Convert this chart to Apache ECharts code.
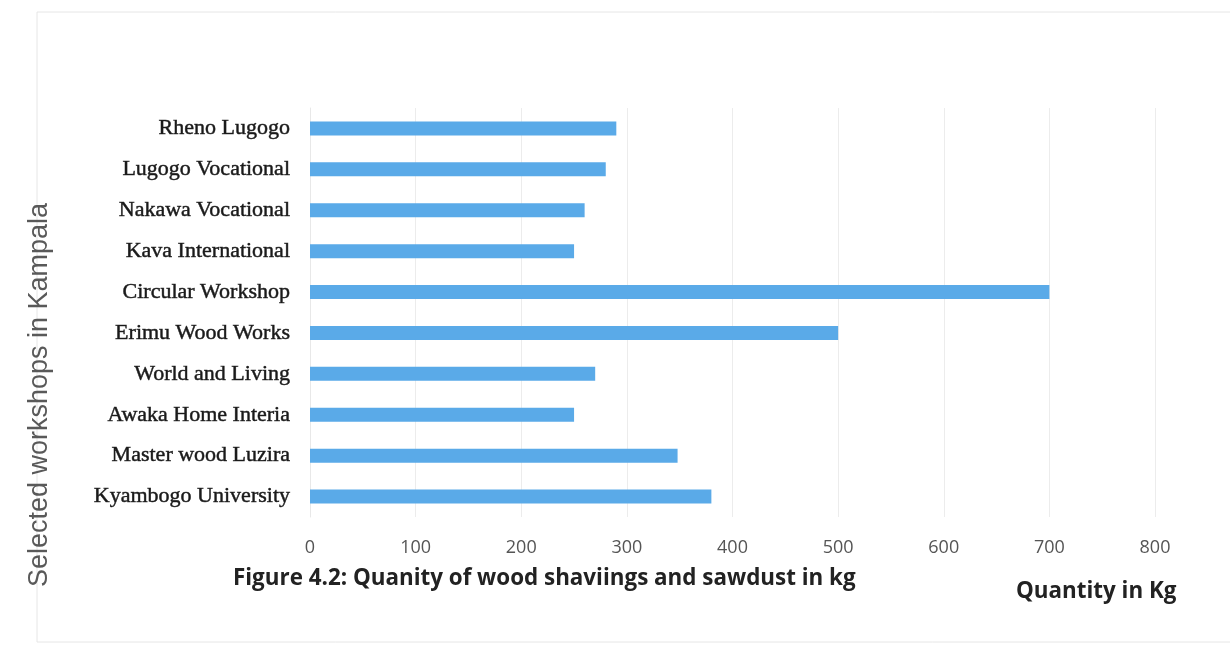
<!DOCTYPE html>
<html>
<head>
<meta charset="utf-8">
<script src="https://cdn.jsdelivr.net/npm/echarts@6/dist/echarts.min.js"></script>
<style>
  html, body { margin: 0; padding: 0; background: #fff; }
  #chart { width: 1230px; height: 665px; }
</style>
</head>
<body>
<div id="chart"></div>
<script>
// workshops, bottom to top as drawn
const workshops = [
  'Kyambogo University',
  'Master wood Luzira',
  'Awaka Home Interia',
  'World and Living',
  'Erimu Wood Works',
  'Circular Workshop',
  'Kava International',
  'Nakawa Vocational',
  'Lugogo Vocational',
  'Rheno Lugogo'
];
const quantities = [380, 348, 250, 270, 500, 700, 250, 260, 280, 290];

const xTicks = [0, 100, 200, 300, 400, 500, 600, 700, 800];

const chart = echarts.init(document.getElementById('chart'));

const option = {
  animation: false,
  grid: { left: 310, right: 75, top: 108, bottom: 148, containLabel: false },
  graphic: [
    {
      type: 'rect',
      shape: { x: 37, y: 12, width: 1220, height: 630 },
      style: { fill: 'none', stroke: '#e6e6e6', lineWidth: 1 }
    },
    {
      type: 'text',
      left: 233,
      top: 568,
      style: {
        text: 'Figure 4.2: Quanity of wood shaviings and sawdust in kg',
        font: 'bold 22.4px "Open Sans", sans-serif',
        fill: '#222'
      }
    },
    {
      type: 'text',
      left: 1016,
      top: 581,
      style: {
        text: 'Quantity in Kg',
        font: 'bold 22.4px "Open Sans", sans-serif',
        fill: '#222'
      }
    },
    {
      type: 'text',
      x: 40,
      y: 395,
      rotation: Math.PI / 2,
      style: {
        text: 'Selected workshops in Kampala',
        font: '27px "Liberation Sans", Arial, sans-serif',
        fill: '#595959',
        align: 'center',
        verticalAlign: 'middle'
      }
    }
  ],
  xAxis: {
    type: 'value',
    min: xTicks[0],
    max: xTicks[xTicks.length - 1],
    interval: 100,
    axisLine: { show: false },
    axisTick: { show: false },
    axisLabel: {
      color: '#555',
      fontSize: 18,
      fontFamily: '"Open Sans", sans-serif',
      margin: 22
    },
    splitLine: { lineStyle: { color: '#ececec', width: 1 } }
  },
  yAxis: {
    type: 'category',
    data: workshops,
    axisLine: { show: true, lineStyle: { color: '#e8e8e8' } },
    axisTick: { show: false },
    axisLabel: {
      color: '#1a1a1a',
      fontSize: 22,
      fontFamily: '"Liberation Serif", "Times New Roman", serif',
      textBorderColor: '#333',
      textBorderWidth: 0.5,
      margin: 20
    }
  },
  series: [
    {
      type: 'bar',
      data: quantities,
      barWidth: 14,
      itemStyle: { color: '#5AAAE8' }
    }
  ]
};

chart.setOption(option);
</script>
</body>
</html>
